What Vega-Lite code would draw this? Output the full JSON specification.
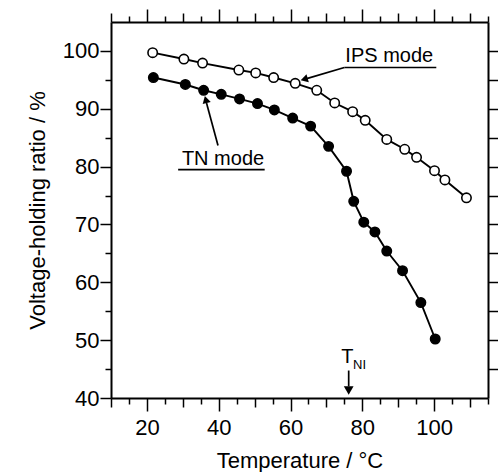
{
  "$schema": "https://vega.github.io/schema/vega-lite/v6.json",
  "width": 377,
  "height": 376,
  "autosize": "none",
  "padding": {"left": 111, "top": 22, "right": 10, "bottom": 74},
  "background": "white",
  "config": {
    "view": {"stroke": null},
    "font": "Liberation Sans",
    "axis": {
      "grid": false,
      "domainColor": "black",
      "domainWidth": 2,
      "tickColor": "black",
      "tickWidth": 1.5,
      "labelColor": "black",
      "titleColor": "black",
      "labelFont": "Liberation Sans",
      "titleFont": "Liberation Sans",
      "labelFontSize": 22,
      "titleFontSize": 22,
      "titleFontWeight": "normal",
      "labelOverlap": false
    }
  },
  "datasets": {
    "curves": [
      {"mode": "IPS", "T": 21.6, "V": 99.7},
      {"mode": "IPS", "T": 30.3, "V": 98.6},
      {"mode": "IPS", "T": 35.5, "V": 97.9},
      {"mode": "IPS", "T": 45.6, "V": 96.7},
      {"mode": "IPS", "T": 50.3, "V": 96.2},
      {"mode": "IPS", "T": 55.3, "V": 95.4},
      {"mode": "IPS", "T": 61.3, "V": 94.4},
      {"mode": "IPS", "T": 67.3, "V": 93.2},
      {"mode": "IPS", "T": 72.3, "V": 91.0},
      {"mode": "IPS", "T": 77.3, "V": 89.5},
      {"mode": "IPS", "T": 80.8, "V": 88.0},
      {"mode": "IPS", "T": 86.8, "V": 84.7},
      {"mode": "IPS", "T": 91.8, "V": 83.0},
      {"mode": "IPS", "T": 95.1, "V": 81.6},
      {"mode": "IPS", "T": 100.1, "V": 79.3},
      {"mode": "IPS", "T": 103.0, "V": 77.7},
      {"mode": "IPS", "T": 109.0, "V": 74.6},
      {"mode": "TN", "T": 21.8, "V": 95.4},
      {"mode": "TN", "T": 30.7, "V": 94.2},
      {"mode": "TN", "T": 35.8, "V": 93.2},
      {"mode": "TN", "T": 40.7, "V": 92.5},
      {"mode": "TN", "T": 45.8, "V": 91.7},
      {"mode": "TN", "T": 50.8, "V": 90.9},
      {"mode": "TN", "T": 55.5, "V": 89.8},
      {"mode": "TN", "T": 60.6, "V": 88.4},
      {"mode": "TN", "T": 65.6, "V": 87.0},
      {"mode": "TN", "T": 70.6, "V": 83.5},
      {"mode": "TN", "T": 75.6, "V": 79.2},
      {"mode": "TN", "T": 77.6, "V": 74.0},
      {"mode": "TN", "T": 80.4, "V": 70.4},
      {"mode": "TN", "T": 83.5, "V": 68.7},
      {"mode": "TN", "T": 86.8, "V": 65.4},
      {"mode": "TN", "T": 91.2, "V": 62.0},
      {"mode": "TN", "T": 96.3, "V": 56.5},
      {"mode": "TN", "T": 100.3, "V": 50.2}
    ],
    "segments": [
      {"x": 75.0, "y": 97.13, "x2": 100.6, "y2": 97.13},
      {"x": 75.0, "y": 97.13, "x2": 64.5, "y2": 95.2},
      {"x": 28.7, "y": 79.47, "x2": 52.8, "y2": 79.47},
      {"x": 39.8, "y": 83.65, "x2": 36.6, "y2": 91.0},
      {"x": 76.2, "y": 44.75, "x2": 76.2, "y2": 42.0}
    ],
    "labels": [
      {"x": 87.5, "y": 98.1, "text": "IPS mode"},
      {"x": 41.2, "y": 80.3, "text": "TN mode"}
    ],
    "arrowIPS": [{"x": 63.8, "y": 95.1}],
    "arrowTN": [{"x": 36.4, "y": 91.6}],
    "arrowTNI": [{"x": 76.2, "y": 41.3}],
    "tT": [{"x": 75.8, "y": 46.1, "text": "T"}],
    "tNI": [{"x": 77.4, "y": 45.0, "text": "NI"}]
  },
  "layer": [
    {
      "data": {"name": "curves"},
      "mark": {"type": "line", "color": "black", "strokeWidth": 1.9},
      "encoding": {
        "x": {
          "field": "T", "type": "quantitative",
          "scale": {"domain": [10, 115], "nice": false, "zero": false},
          "axis": {
            "orient": "bottom",
            "values": [10, 15, 20, 25, 30, 35, 40, 45, 50, 55, 60, 65, 70, 75, 80, 85, 90, 95, 100, 105, 110, 115],
            "labelExpr": "datum.value % 20 === 0 && datum.value <= 100 ? datum.label : ''",
            "tickSize": {"condition": [{"test": "datum.value % 20 === 0", "value": 13}, {"test": "datum.value % 10 === 0", "value": 9}], "value": 6},
            "labelPadding": 6,
            "labelFlush": false,
            "title": "Temperature / °C",
            "titlePadding": 12
          }
        },
        "y": {
          "field": "V", "type": "quantitative",
          "scale": {"domain": [40, 105], "nice": false, "zero": false},
          "axis": {
            "orient": "left",
            "values": [40, 45, 50, 55, 60, 65, 70, 75, 80, 85, 90, 95, 100],
            "labelExpr": "datum.value % 10 === 0 ? datum.label : ''",
            "tickSize": {"condition": {"test": "datum.value % 10 === 0", "value": 11}, "value": 6},
            "labelPadding": 1,
            "title": "Voltage-holding ratio / %",
            "titlePadding": 13
          }
        },
        "detail": {"field": "mode", "type": "nominal"}
      }
    },
    {
      "data": {"name": "curves"},
      "mark": {"type": "point", "shape": "circle", "filled": true, "stroke": "black", "strokeWidth": 1.6, "size": 88, "opacity": 1},
      "encoding": {
        "x": {
          "field": "T", "type": "quantitative",
          "scale": {"domain": [10, 115], "nice": false, "zero": false},
          "axis": {
            "orient": "top",
            "values": [10, 15, 20, 25, 30, 35, 40, 45, 50, 55, 60, 65, 70, 75, 80, 85, 90, 95, 100, 105, 110, 115],
            "labels": false,
            "tickSize": {"condition": [{"test": "datum.value % 20 === 0", "value": 13}, {"test": "datum.value % 10 === 0", "value": 9}], "value": 6},
            "title": null
          }
        },
        "y": {
          "field": "V", "type": "quantitative",
          "scale": {"domain": [40, 105], "nice": false, "zero": false},
          "axis": {
            "orient": "right",
            "values": [45, 50, 55, 60, 65, 70, 75, 80, 85, 90, 95, 100],
            "labels": false,
            "tickSize": 10,
            "title": null
          }
        },
        "fill": {
          "field": "mode", "type": "nominal",
          "scale": {"domain": ["IPS", "TN"], "range": ["white", "black"]},
          "legend": null
        }
      }
    },
    {
      "data": {"name": "segments"},
      "mark": {"type": "rule", "color": "black", "strokeWidth": 1.7},
      "encoding": {
        "x": {"field": "x", "type": "quantitative", "axis": null},
        "y": {"field": "y", "type": "quantitative", "axis": null},
        "x2": {"field": "x2"},
        "y2": {"field": "y2"}
      }
    },
    {
      "data": {"name": "labels"},
      "mark": {"type": "text", "fontSize": 20, "font": "Liberation Sans", "color": "black", "align": "center", "baseline": "alphabetic"},
      "encoding": {
        "x": {"field": "x", "type": "quantitative", "axis": null},
        "y": {"field": "y", "type": "quantitative", "axis": null},
        "text": {"field": "text"}
      }
    },
    {
      "data": {"name": "arrowIPS"},
      "mark": {"type": "point", "shape": "triangle-up", "filled": true, "color": "black", "size": 70, "angle": 254, "opacity": 1},
      "encoding": {
        "x": {"field": "x", "type": "quantitative", "axis": null},
        "y": {"field": "y", "type": "quantitative", "axis": null}
      }
    },
    {
      "data": {"name": "arrowTN"},
      "mark": {"type": "point", "shape": "triangle-up", "filled": true, "color": "black", "size": 70, "angle": 345, "opacity": 1},
      "encoding": {
        "x": {"field": "x", "type": "quantitative", "axis": null},
        "y": {"field": "y", "type": "quantitative", "axis": null}
      }
    },
    {
      "data": {"name": "arrowTNI"},
      "mark": {"type": "point", "shape": "triangle-down", "filled": true, "color": "black", "size": 95, "opacity": 1},
      "encoding": {
        "x": {"field": "x", "type": "quantitative", "axis": null},
        "y": {"field": "y", "type": "quantitative", "axis": null}
      }
    },
    {
      "data": {"name": "tT"},
      "mark": {"type": "text", "fontSize": 20, "font": "Liberation Sans", "color": "black", "align": "center", "baseline": "alphabetic"},
      "encoding": {
        "x": {"field": "x", "type": "quantitative", "axis": null},
        "y": {"field": "y", "type": "quantitative", "axis": null},
        "text": {"field": "text"}
      }
    },
    {
      "data": {"name": "tNI"},
      "mark": {"type": "text", "fontSize": 13, "font": "Liberation Sans", "color": "black", "align": "left", "baseline": "alphabetic"},
      "encoding": {
        "x": {"field": "x", "type": "quantitative", "axis": null},
        "y": {"field": "y", "type": "quantitative", "axis": null},
        "text": {"field": "text"}
      }
    }
  ],
  "resolve": {"axis": {"x": "independent", "y": "independent"}}
}
